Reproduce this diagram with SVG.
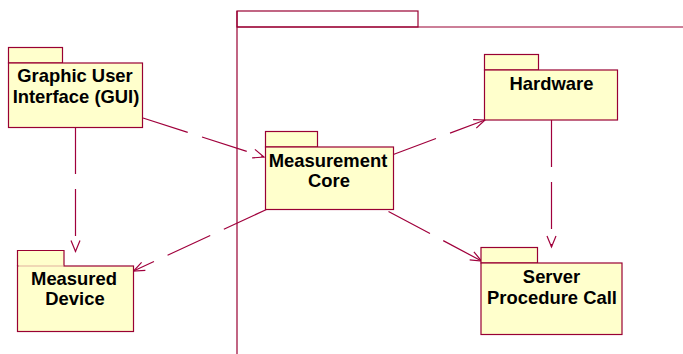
<svg xmlns="http://www.w3.org/2000/svg" width="683" height="354" viewBox="0 0 683 354">
<defs>
<style>
.pk{fill:#ffffcc;stroke:#990033;stroke-width:1.2}
.fr{fill:none;stroke:#990033;stroke-width:1.2}
.cn{fill:none;stroke:#a0003c;stroke-width:1.2;stroke-dasharray:47 15}
.t{font-family:"Liberation Sans",Arial,sans-serif;font-weight:bold;font-size:18.4px;fill:#000;text-anchor:middle}
</style>
<marker id="ar" markerUnits="userSpaceOnUse" markerWidth="14" markerHeight="12" viewBox="-12 -6 14 12" refX="0" refY="0" orient="auto">
<path d="M-11,-4.5 L0,0 L-11,4.5" fill="none" stroke="#a0003c" stroke-width="1.2"/>
</marker>
</defs>
<rect width="683" height="354" fill="#fff"/>
<g id="frame">
<rect class="fr" x="237" y="11" width="181" height="16"/>
<path class="fr" d="M237,27 H683 M237,11 V354"/>
</g>
<g id="connectors">
<path class="cn" d="M143,118 L264,157" marker-end="url(#ar)"/>
<path class="cn" d="M75.5,127 L75.5,251.5" marker-end="url(#ar)"/>
<path class="cn" d="M266.5,209.5 L133.5,271" marker-end="url(#ar)"/>
<path class="cn" d="M392,155 L485,120" marker-end="url(#ar)"/>
<path class="cn" d="M388.5,211.5 L481.5,261" marker-end="url(#ar)"/>
<path class="cn" d="M551.5,120 L551.5,247" marker-end="url(#ar)"/>
</g>
<g id="gui">
<rect class="pk" x="8.5" y="47.5" width="54" height="15.5"/>
<rect class="pk" x="8.5" y="63" width="134" height="64.5"/>
<text class="t" x="75" y="81.5">Graphic User</text>
<text class="t" x="76" y="103">Interface (GUI)</text>
</g>
<g id="measured-device">
<path class="pk" d="M17.5,266 V250.5 H64 V266"/>
<rect class="pk" x="17.5" y="266" width="116" height="65.5"/>
<path d="M18.5,266 H63.5" stroke="#ffffcc" stroke-width="1.4"/>
<text class="t" x="74" y="284.5">Measured</text>
<text class="t" x="75" y="305">Device</text>
</g>
<g id="measurement-core">
<rect class="pk" x="265.5" y="131.5" width="52" height="15.5"/>
<rect class="pk" x="265.5" y="147" width="128" height="62.5"/>
<text class="t" x="328" y="166.5">Measurement</text>
<text class="t" x="329" y="187">Core</text>
</g>
<g id="hardware">
<rect class="pk" x="484.5" y="54.5" width="54" height="15.5"/>
<rect class="pk" x="484.5" y="70" width="133" height="50"/>
<text class="t" x="551.5" y="89.5">Hardware</text>
</g>
<g id="server-procedure-call">
<rect class="pk" x="481" y="247.5" width="56.5" height="15.5"/>
<rect class="pk" x="481" y="263" width="141" height="71.5"/>
<text class="t" x="551.5" y="283">Server</text>
<text class="t" x="552" y="303.5">Procedure Call</text>
</g>
</svg>
